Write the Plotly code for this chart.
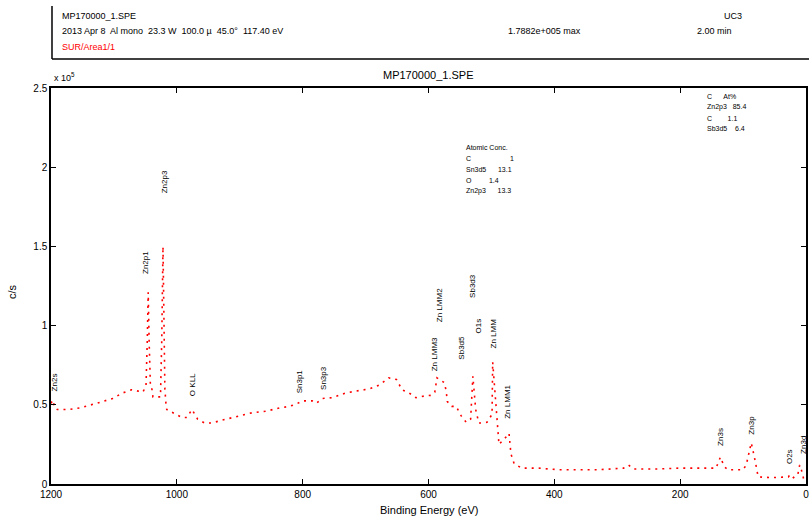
import plotly.graph_objects as go

# ---------------- data (binding energy in eV, intensity in 10^5 c/s) ----------------
binding_energy = [1200, 1197, 1194, 1190, 1173, 1154, 1127, 1102, 1086, 1072, 1054,
                  1049, 1047, 1045.5, 1044, 1042, 1040, 1038, 1026, 1024, 1022, 1020.5,
                  1019, 1017, 1016, 992, 984, 976, 967, 956, 945, 921, 900, 880, 858,
                  837, 821, 810, 800, 785, 778, 769, 753, 731, 710, 694, 678, 663, 651,
                  642, 631, 620, 607, 596, 590, 586.5, 575, 572, 570, 563, 556, 548,
                  540, 533, 529.5, 525, 520, 512, 507, 499, 498, 491, 488, 476, 472,
                  469, 464, 452, 425, 393, 330, 290, 282, 274, 235, 203, 171, 143,
                  136, 130, 124, 100, 95, 87, 81, 76, 55, 28, 25, 20, 13, 10, 8, 3, 0]
intensity = [0.51, 0.53, 0.48, 0.47, 0.47, 0.48, 0.51, 0.54, 0.575, 0.595, 0.58,
             0.62, 0.9, 1.21, 0.9, 0.62, 0.61, 0.55, 0.55, 0.9, 1.5, 1.0,
             0.6, 0.49, 0.47, 0.42, 0.42, 0.47, 0.41, 0.385, 0.385, 0.41, 0.43, 0.45, 0.46,
             0.48, 0.49, 0.505, 0.525, 0.525, 0.51, 0.54, 0.545, 0.575, 0.59, 0.60, 0.625, 0.67, 0.66,
             0.595, 0.575, 0.545, 0.555, 0.56, 0.58, 0.67, 0.64, 0.59, 0.52, 0.49, 0.49, 0.43,
             0.39, 0.41, 0.68, 0.47, 0.385, 0.385, 0.39, 0.44, 0.77, 0.40, 0.25, 0.30, 0.32,
             0.19, 0.13, 0.10, 0.10, 0.09, 0.09, 0.10, 0.12, 0.095, 0.095, 0.10, 0.10, 0.10,
             0.17, 0.11, 0.09, 0.09, 0.12, 0.26, 0.15, 0.045, 0.04, 0.045, 0.06, 0.04, 0.06, 0.12, 0.10, 0.02, 0.01]

peak_labels = ["Zn2s", "Zn2p1", "Zn2p3", "O KLL", "Sn3p1", "Sn3p3", "Zn LMM2", "Zn LMM3",
               "Sb3d5", "Sb3d3", "O1s", "Zn LMM", "Zn LMM1", "Zn3s", "Zn3p", "O2s", "Zn3d"]
peak_label_be = [1194, 1051, 1019, 976, 805, 766, 583, 591, 547, 531, 520, 496, 475, 136, 87, 27, 4]
peak_label_y = [0.64, 1.40, 1.91, 0.63, 0.645, 0.67, 1.13, 0.82, 0.86, 1.25, 1.0, 0.95, 0.52, 0.30, 0.37, 0.17, 0.25]

x_ticks = [1200, 1000, 800, 600, 400, 200, 0]
y_ticks = [0, 0.5, 1, 1.5, 2, 2.5]

header_line1 = "MP170000_1.SPE"
header_line2 = "2013 Apr 8  Al mono  23.3 W  100.0 \u00b5  45.0\u00b0  117.40 eV"
header_max = "1.7882e+005 max"
header_min = "2.00 min"
header_site = "UC3"
header_region = "SUR/Area1/1"
chart_title = "MP170000_1.SPE"

quant_mid = ["Atomic Conc.", "C                    1", "Sn3d5      13.1", "O         1.4", "Zn2p3      13.3"]
quant_right = ["C      At%", "Zn2p3   85.4", "C        1.1", "Sb3d5    6.4"]

# ---------------- layout geometry ----------------
W, H = 811, 518
L, R, T, B = 51, 808, 88, 484


def px(xp):
    return (xp - L) / (R - L)


def py(yp):
    return (B - yp) / (B - T)


fig = go.Figure()
fig.add_trace(go.Scatter(x=binding_energy, y=intensity, mode="lines",
                         line=dict(color="#ff0000", width=1.6, dash="2px,5px"), hoverinfo="skip"))

font = "Liberation Sans, Arial, sans-serif"
ann = []
for t, xb, yv in zip(peak_labels, peak_label_be, peak_label_y):
    ann.append(dict(x=xb, y=yv, xref="x", yref="y", text=t, textangle=-90, showarrow=False,
                    font=dict(size=8, color="black", family=font)))

# header texts
ann += [
    dict(x=px(60), y=py(16), text=header_line1, xanchor="left"),
    dict(x=px(60), y=py(31), text=header_line2, xanchor="left"),
    dict(x=px(60), y=py(47), text=header_region, xanchor="left", font=dict(size=9, color="#ff0000", family=font)),
    dict(x=px(507), y=py(31), text=header_max, xanchor="left"),
    dict(x=px(697), y=py(31), text=header_min, xanchor="left"),
    dict(x=px(724), y=py(16), text=header_site, xanchor="left"),
    dict(x=px(430), y=py(75), text=chart_title, xanchor="center", font=dict(size=11, color="black", family=font)),
    dict(x=px(52), y=py(77), text="x 10<sup>5</sup>", xanchor="left", font=dict(size=9, color="black", family=font)),
    dict(x=px(430), y=py(510), text="Binding Energy (eV)", xanchor="center", font=dict(size=11, color="black", family=font)),
    dict(x=px(12), y=py(292), text="c/s", textangle=-90, xanchor="center", font=dict(size=11, color="black", family=font)),
]
for i, s in enumerate(quant_mid):
    ann.append(dict(x=px(465), y=py(147 + 11 * i), text=s, xanchor="left", font=dict(size=7, color="black", family=font)))
for i, s in enumerate(quant_right):
    ann.append(dict(x=px(707), y=py(96 + 11 * i), text=s, xanchor="left", font=dict(size=7, color="black", family=font)))

for a in ann:
    a.setdefault("xref", "paper")
    a.setdefault("yref", "paper")
    a.setdefault("showarrow", False)
    a.setdefault("yanchor", "middle")
    a.setdefault("font", dict(size=9, color="black", family=font))

shapes = [
    dict(type="line", xref="paper", yref="paper", x0=px(52), x1=px(52), y0=py(6), y1=py(59),
         line=dict(color="black", width=1.5)),
    dict(type="line", xref="paper", yref="paper", x0=px(52), x1=px(811), y0=py(59), y1=py(59),
         line=dict(color="black", width=1.5)),
]

fig.update_layout(
    width=W, height=H,
    margin=dict(l=L, r=W - R, t=T, b=H - B),
    paper_bgcolor="white", plot_bgcolor="white",
    showlegend=False,
    annotations=ann, shapes=shapes,
    font=dict(family=font, size=10, color="black"),
)
fig.update_xaxes(range=[1200, 0], tickvals=x_ticks, ticktext=[str(v) for v in x_ticks],
                 ticks="inside", ticklen=5, tickcolor="black", showline=True, linecolor="black",
                 linewidth=1.5, mirror="ticks", showgrid=False, zeroline=False,
                 tickfont=dict(size=10))
fig.update_yaxes(range=[0, 2.5], tickvals=y_ticks, ticktext=["0", "0.5", "1", "1.5", "2", "2.5"],
                 ticks="inside", ticklen=5, tickcolor="black", showline=True, linecolor="black",
                 linewidth=1.5, mirror="ticks", showgrid=False, zeroline=False,
                 tickfont=dict(size=10))

fig.write_html("out.html")
